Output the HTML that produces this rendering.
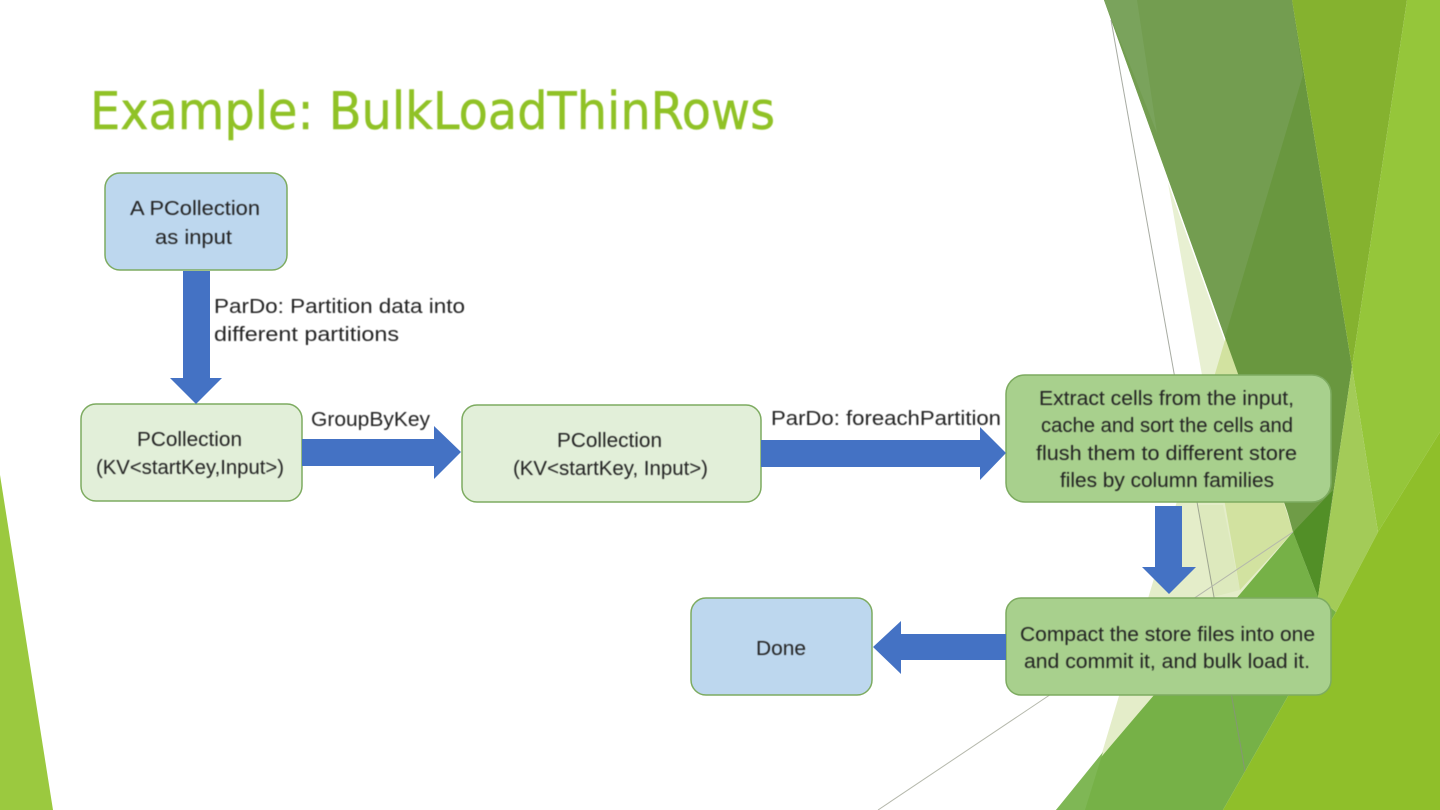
<!DOCTYPE html>
<html><head><meta charset="utf-8"><style>
html,body{margin:0;padding:0;background:#fff;width:1440px;height:810px;overflow:hidden}
svg{display:block}
text{font-family:"Liberation Sans",sans-serif;font-size:20px;fill:#222}
.soft{filter:blur(.45px)}
</style></head><body>
<svg width="1440" height="810" viewBox="0 0 1440 810" xmlns="http://www.w3.org/2000/svg">
<rect width="1440" height="810" fill="#fff"/>
<polygon points="0,475 53,810 0,810" fill="#9bc93f"/>
<!-- pale overlays -->
<polygon points="1168,183 1240,590 1293,532" fill="#e8f0d2"/>
<polygon points="1228,330 1310,560 1085,810" fill="#e4edc9"/>
<polygon points="1197,505 1223,505 1240,590 1213,597" fill="#dde9bd"/>
<polygon points="1228,330 1207,401 1240,590 1293,532" fill="#d2e2a0"/>
<!-- dark group -->
<polygon points="1104,0 1292,0 1352,367 1318,597" fill="#69973f"/>
<polygon points="1104,0 1292,0 1303,75 1225,337" fill="#739d50"/>
<polygon points="1104,0 1137,0 1157,133" fill="#7aa35c"/>
<polygon points="1292,0 1407,0 1352,367" fill="#85b22f"/>
<!-- bottom triangle -->
<polygon points="1056,810 1293,532 1318,597 1336,612 1223,810" fill="#76b147"/>
<polygon points="1056,810 1103,752 1085,810" fill="#7fb755"/>
<polygon points="1293,532 1333,490 1318,597" fill="#528f27"/>
<polygon points="1285,503 1333,490 1293,532" fill="#6f9c47"/>
<!-- thin lines -->
<line x1="1111" y1="20" x2="1252" y2="810" stroke="#8a8f84" stroke-width="1" opacity=".75"/>
<line x1="878" y1="810" x2="1293" y2="532" stroke="#b5b8ac" stroke-width="1"/>
<!-- right greens -->
<polygon points="1407,0 1440,0 1440,432 1378,532 1352,367" fill="#95c63a"/>
<polygon points="1352,367 1378,532 1336,612 1318,597" fill="#a3cb58"/>
<polygon points="1440,432 1440,810 1223,810 1336,612 1378,532" fill="#8fbf2a"/>
<!-- title -->
<text class="soft" x="90" y="129" textLength="685" lengthAdjust="spacingAndGlyphs" style="font-family:'DejaVu Sans',sans-serif;font-size:52px;fill:#90c226;stroke:#90c226;stroke-width:.5px">Example: BulkLoadThinRows</text>
<!-- boxes -->
<g stroke="#7dab60" stroke-width="1.5">
<rect x="105" y="173" width="182" height="97" rx="15" fill="#bdd7ee"/>
<rect x="81" y="404" width="221" height="97" rx="15" fill="#e2efd9"/>
<rect x="462" y="405" width="299" height="97" rx="15" fill="#e2efd9"/>
<rect x="1006" y="375" width="325" height="127" rx="19" fill="#a8d08d"/>
<rect x="1006" y="598" width="325" height="97" rx="15" fill="#a8d08d"/>
<rect x="691" y="598" width="181" height="97" rx="15" fill="#bdd7ee"/>
</g>
<!-- arrows -->
<g fill="#4472c4">
<polygon points="183,271 210,271 210,378 222,378 196,404 170,378 183,378"/>
<polygon points="302,439 434,439 434,426 461,452 434,479 434,466 302,466"/>
<polygon points="761,440 980,440 980,427 1006,453 980,480 980,467 761,467"/>
<polygon points="1155,506 1182,506 1182,567 1196,567 1169,594 1142,567 1155,567"/>
<polygon points="1006,634 901,634 901,621 873,647 901,674 901,660 1006,660"/>
</g>
<!-- labels -->
<g class="soft">
<text x="130" y="215" textLength="130" lengthAdjust="spacingAndGlyphs">A PCollection</text>
<text x="155" y="244" textLength="77" lengthAdjust="spacingAndGlyphs">as input</text>
<text x="214" y="313" textLength="251" lengthAdjust="spacingAndGlyphs">ParDo: Partition data into</text>
<text x="214" y="341" textLength="185" lengthAdjust="spacingAndGlyphs">different partitions</text>
<text x="137" y="446" textLength="105" lengthAdjust="spacingAndGlyphs">PCollection</text>
<text x="96" y="474" textLength="188" lengthAdjust="spacingAndGlyphs">(KV&lt;startKey,Input&gt;)</text>
<text x="311" y="426" textLength="119" lengthAdjust="spacingAndGlyphs">GroupByKey</text>
<text x="557" y="447" textLength="105" lengthAdjust="spacingAndGlyphs">PCollection</text>
<text x="513" y="475" textLength="195" lengthAdjust="spacingAndGlyphs">(KV&lt;startKey, Input&gt;)</text>
<text x="771" y="425" textLength="230" lengthAdjust="spacingAndGlyphs">ParDo: foreachPartition</text>
<text x="1039" y="405" textLength="255" lengthAdjust="spacingAndGlyphs">Extract cells from the input,</text>
<text x="1041" y="432" textLength="252" lengthAdjust="spacingAndGlyphs">cache and sort the cells and</text>
<text x="1036" y="460" textLength="261" lengthAdjust="spacingAndGlyphs">flush them to different store</text>
<text x="1060" y="487" textLength="214" lengthAdjust="spacingAndGlyphs">files by column families</text>
<text x="1020" y="641" textLength="295" lengthAdjust="spacingAndGlyphs">Compact the store files into one</text>
<text x="1024" y="668" textLength="286" lengthAdjust="spacingAndGlyphs">and commit it, and bulk load it.</text>
<text x="756" y="655" textLength="50" lengthAdjust="spacingAndGlyphs">Done</text>
</g>
</svg>
</body></html>
